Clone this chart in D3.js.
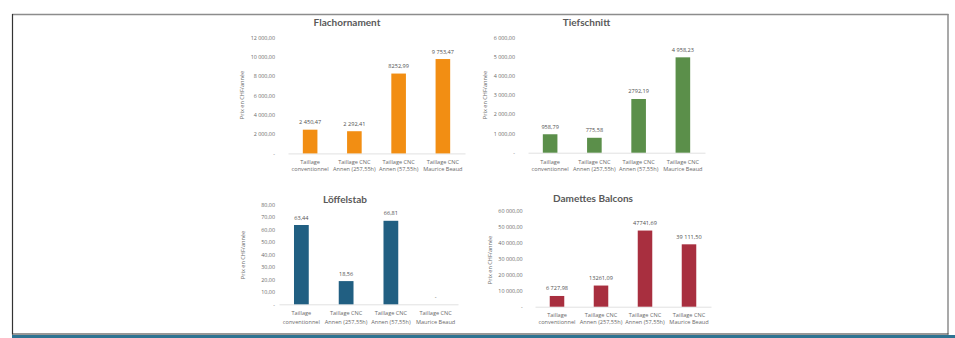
<!DOCTYPE html>
<html><head><meta charset="utf-8">
<script src="https://cdn.jsdelivr.net/npm/d3@7"></script>
<style>html,body{margin:0;padding:0;background:#fff;}svg{display:block;}</style>
</head><body>
<svg id="c" width="955" height="338"></svg>
<script>
// ---------- DATA ----------
const categories = [
  ["Taillage", "conventionnel"],
  ["Taillage CNC", "Annen (257,55h)"],
  ["Taillage CNC", "Annen (57,55h)"],
  ["Taillage CNC", "Maurice Beaud"]
];
const yAxisTitle = "Prix en CHF/année";

const flachTitle = "Flachornament";
const flachValues = [2450.47, 2292.41, 8252.99, 9753.47];
const flachLabels = ["2 450,47", "2 292,41", "8252,99", "9 753,47"];
const flachTicks = [0, 2000, 4000, 6000, 8000, 10000, 12000];
const flachTickLabels = ["-", "2 000,00", "4 000,00", "6 000,00", "8 000,00", "10 000,00", "12 000,00"];

const tiefTitle = "Tiefschnitt";
const tiefValues = [958.79, 775.58, 2792.19, 4958.23];
const tiefLabels = ["958,79", "775,58", "2792,19", "4 958,23"];
const tiefTicks = [0, 1000, 2000, 3000, 4000, 5000, 6000];
const tiefTickLabels = ["-", "1 000,00", "2 000,00", "3 000,00", "4 000,00", "5 000,00", "6 000,00"];

const loefTitle = "Löffelstab";
const loefValues = [63.44, 18.56, 66.81, 0];
const loefLabels = ["63,44", "18,56", "66,81", "-"];
const loefTicks = [0, 10, 20, 30, 40, 50, 60, 70, 80];
const loefTickLabels = ["-", "10,00", "20,00", "30,00", "40,00", "50,00", "60,00", "70,00", "80,00"];

const damTitle = "Damettes Balcons";
const damValues = [6727.98, 13261.09, 47741.69, 39111.50];
const damLabels = ["6 727,98", "13261,09", "47741,69", "39 111,50"];
const damTicks = [0, 10000, 20000, 30000, 40000, 50000, 60000];
const damTickLabels = ["-", "10 000,00", "20 000,00", "30 000,00", "40 000,00", "50 000,00", "60 000,00"];

// ---------- LAYOUT / STYLE ----------
const FONT = "'Open Sans', Lato, sans-serif";
const svg = d3.select("#c");

// frame
svg.append("rect").attr("x", 12).attr("y", 335).attr("width", 943).attr("height", 3).attr("fill", "#2e7392");
svg.append("line").attr("x1", 12).attr("x2", 948.5).attr("y1", 14.5).attr("y2", 14.5).attr("stroke", "#8c8c8c").attr("stroke-width", 1.5);
svg.append("line").attr("x1", 12.5).attr("x2", 12.5).attr("y1", 14).attr("y2", 334.5).attr("stroke", "#333").attr("stroke-width", 1.2);
svg.append("line").attr("x1", 948).attr("x2", 948).attr("y1", 14).attr("y2", 334.5).attr("stroke", "#8c8c8c").attr("stroke-width", 1.5);
svg.append("line").attr("x1", 12).attr("x2", 948.5).attr("y1", 334).attr("y2", 334).attr("stroke", "#333").attr("stroke-width", 1.2);

function drawChart(o) {
  const g = svg.append("g");
  const x = d3.scaleBand().domain(d3.range(o.values.length)).range([o.x0, o.x1])
    .paddingInner(0.67).paddingOuter(0.335);
  const y = d3.scaleLinear().domain([0, o.ticks[o.ticks.length - 1]]).range([o.yBase, o.yTop]);

  // title
  g.append("text").attr("x", o.titleX).attr("y", o.titleY + 3.5)
    .attr("text-anchor", "middle").attr("font-family", "Lato, sans-serif").attr("font-weight", "bold")
    .attr("font-size", 10).attr("fill", "#595959").text(o.title);

  // y axis (labels only)
  const yAxis = d3.axisLeft(y).tickValues(o.ticks).tickSize(0)
    .tickFormat((d, i) => o.tickLabels[i]);
  const ya = g.append("g").attr("transform", `translate(${o.tickRight},0)`).call(yAxis);
  ya.select(".domain").remove();
  ya.selectAll("text").attr("x", 0).attr("font-family", FONT).attr("font-size", 5.4).attr("fill", "#6a6a6a");

  // y axis title
  g.append("text").attr("transform", `translate(${o.yTitleX},${o.yTitleY}) rotate(-90)`)
    .attr("text-anchor", "middle").attr("dy", "0.35em").attr("font-family", FONT)
    .attr("font-size", 5.6).attr("fill", "#6a6a6a").text(yAxisTitle);

  // baseline axis
  const xAxis = d3.axisBottom(x).tickSize(0).tickFormat("");
  const xa = g.append("g").attr("transform", `translate(0,${o.yBase})`).call(xAxis);
  xa.select(".domain").attr("stroke", "#d9d9d9").attr("stroke-width", 0.8);

  // category labels
  categories.forEach((lines, i) => {
    lines.forEach((t, j) => {
      g.append("text").attr("x", x(i) + x.bandwidth() / 2).attr("y", (j === 0 ? o.cat1 : o.cat2) + 2.1)
        .attr("text-anchor", "middle").attr("font-family", FONT).attr("font-size", 5.6)
        .attr("fill", "#6a6a6a").text(t);
    });
  });

  // bars
  g.selectAll("rect.bar").data(o.values).enter().append("rect").attr("class", "bar")
    .attr("x", (d, i) => x(i)).attr("width", x.bandwidth())
    .attr("y", d => y(d)).attr("height", d => y(0) - y(d)).attr("fill", o.color);

  // value labels
  g.selectAll("text.val").data(o.values).enter().append("text").attr("class", "val")
    .attr("x", (d, i) => x(i) + x.bandwidth() / 2).attr("y", d => y(d) - 5.5)
    .attr("text-anchor", "middle").attr("font-family", FONT).attr("font-size", 5.6)
    .attr("fill", "#505050").text((d, i) => o.labels[i]);
}

drawChart({title: flachTitle, values: flachValues, labels: flachLabels, ticks: flachTicks, tickLabels: flachTickLabels,
  color: "#f28e13", x0: 288, x1: 465, yBase: 153.4, yTop: 37.3, tickRight: 275,
  titleX: 347, titleY: 22, yTitleX: 242, yTitleY: 95, cat1: 161.7, cat2: 169.3});
drawChart({title: tiefTitle, values: tiefValues, labels: tiefLabels, ticks: tiefTicks, tickLabels: tiefTickLabels,
  color: "#5b8f4a", x0: 528, x1: 705, yBase: 152.7, yTop: 37.3, tickRight: 515,
  titleX: 586.5, titleY: 22, yTitleX: 485, yTitleY: 95, cat1: 161.7, cat2: 169.3});
drawChart({title: loefTitle, values: loefValues, labels: loefLabels, ticks: loefTicks, tickLabels: loefTickLabels,
  color: "#215f82", x0: 279, x1: 458, yBase: 304.3, yTop: 204.3, tickRight: 275,
  titleX: 345, titleY: 199, yTitleX: 243, yTitleY: 255, cat1: 313.3, cat2: 321.7});
drawChart({title: damTitle, values: damValues, labels: damLabels, ticks: damTicks, tickLabels: damTickLabels,
  color: "#a82f3f", x0: 535, x1: 711, yBase: 306.7, yTop: 211, tickRight: 522.7,
  titleX: 593, titleY: 198.5, yTitleX: 490, yTitleY: 260, cat1: 315, cat2: 321.7});
</script>
</body></html>
